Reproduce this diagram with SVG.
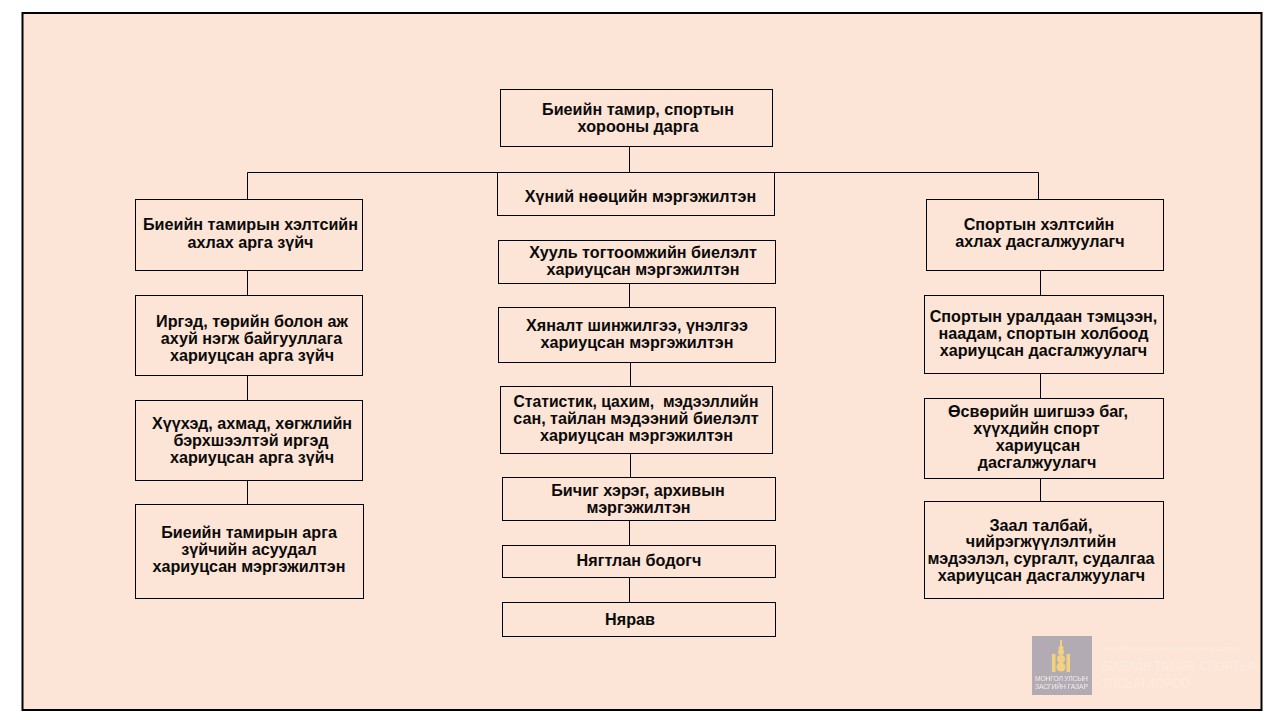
<svg xmlns="http://www.w3.org/2000/svg" width="1279" height="720" viewBox="0 0 1279 720">
<style>
.n{fill:#fce4d6;stroke:#000;stroke-width:1}
.c{fill:none;stroke:#000;stroke-width:1}
text{font-family:"Liberation Sans",Arial,sans-serif;font-weight:700;font-size:16.15px;fill:#0a0a0a;text-anchor:middle;white-space:pre}
.w{font-size:15px;fill:#fde9dd;text-anchor:start}
.s{font-size:6.800px;font-weight:400;fill:#f5ecec}
</style>
<defs><filter id="soft" x="-5%" y="-5%" width="110%" height="110%"><feGaussianBlur stdDeviation="0.400"/></filter></defs>
<rect x="0" y="0" width="1279" height="720" fill="#fff"/>
<rect x="22.500" y="13" width="1239" height="697" fill="#fce4d6" stroke="#000" stroke-width="2"/>
<g id="connectors">
<path class="c" d="M629.500 146V172.500M247.500 199V172.500H1038.500V199M247.500 270V295M247.500 375V400M247.500 480V504M629.500 283V307M630.500 362V386M630.500 453V477M629.500 520V545M629.500 577V602M1040.500 270V295M1040.500 373V398M1040.500 478V501"/>
</g>
<g id="n1"><rect class="n" x="500.500" y="89.500" width="272" height="57"/><text x="638" y="115">Биеийн тамир, спортын</text><text x="638" y="132">хорооны дарга</text></g>
<g id="n2"><rect class="n" x="497.500" y="172.500" width="277" height="43"/><text x="640.500" y="202">Хүний нөөцийн мэргэжилтэн</text></g>
<g id="n3"><rect class="n" x="498.500" y="240.500" width="277" height="43"/><text x="643" y="258">Хууль тогтоомжийн биелэлт</text><text x="643" y="275">хариуцсан мэргэжилтэн</text></g>
<g id="n4"><rect class="n" x="498.500" y="307.500" width="277" height="55"/><text x="637" y="331">Хяналт шинжилгээ, үнэлгээ</text><text x="637" y="348">хариуцсан мэргэжилтэн</text></g>
<g id="n5"><rect class="n" x="500.500" y="386.500" width="272" height="67"/><text x="636" y="407" textLength="245" lengthAdjust="spacingAndGlyphs">Статистик, цахим,  мэдээллийн</text><text x="636" y="424">сан, тайлан мэдээний биелэлт</text><text x="636.500" y="441">хариуцсан мэргэжилтэн</text></g>
<g id="n6"><rect class="n" x="502.500" y="477.500" width="273" height="43"/><text x="638" y="496">Бичиг хэрэг, архивын</text><text x="638.500" y="513">мэргэжилтэн</text></g>
<g id="n7"><rect class="n" x="502.500" y="545.500" width="273" height="32"/><text x="639" y="566">Нягтлан бодогч</text></g>
<g id="n8"><rect class="n" x="502.500" y="602.500" width="273" height="34"/><text x="630" y="625">Нярав</text></g>
<g id="l1"><rect class="n" x="135.500" y="199.500" width="227" height="71"/><text x="250.500" y="230">Биеийн тамирын хэлтсийн</text><text x="250.500" y="248">ахлах арга зүйч</text></g>
<g id="l2"><rect class="n" x="135.500" y="295.500" width="227" height="80"/><text x="252" y="327">Иргэд, төрийн болон аж</text><text x="251.500" y="344">ахуй нэгж байгууллага</text><text x="252" y="361">хариуцсан арга зүйч</text></g>
<g id="l3"><rect class="n" x="135.500" y="400.500" width="227" height="80"/><text x="252" y="429">Хүүхэд, ахмад, хөгжлийн</text><text x="251" y="446">бэрхшээлтэй иргэд</text><text x="252" y="463">хариуцсан арга зүйч</text></g>
<g id="l4"><rect class="n" x="135.500" y="504.500" width="228" height="94"/><text x="249" y="538">Биеийн тамирын арга</text><text x="249" y="555">зүйчийн асуудал</text><text x="249" y="572">хариуцсан мэргэжилтэн</text></g>
<g id="r1"><rect class="n" x="926.500" y="199.500" width="237" height="71"/><text x="1039" y="230">Спортын хэлтсийн</text><text x="1040" y="247">ахлах дасгалжуулагч</text></g>
<g id="r2"><rect class="n" x="924.500" y="295.500" width="239" height="78"/><text x="1043.500" y="322">Спортын уралдаан тэмцээн,</text><text x="1043.500" y="339">наадам, спортын холбоод</text><text x="1043.500" y="356">хариуцсан дасгалжуулагч</text></g>
<g id="r3"><rect class="n" x="924.500" y="398.500" width="239" height="80"/><text x="1038" y="417">Өсвөрийн шигшээ баг,</text><text x="1036.500" y="434">хүүхдийн спорт</text><text x="1038" y="451">хариуцсан</text><text x="1037" y="468">дасгалжуулагч</text></g>
<g id="r4"><rect class="n" x="924.500" y="501.500" width="239" height="97"/><text x="1041" y="531">Заал талбай,</text><text x="1041" y="547">чийрэгжүүлэлтийн</text><text x="1041" y="564">мэдээлэл, сургалт, судалгаа</text><text x="1041.500" y="581">хариуцсан дасгалжуулагч</text></g>
<g id="logo" filter="url(#soft)">
<rect x="1032" y="636" width="60" height="59" fill="#b3abb3"/>
<g fill="#f3d27f"><rect x="1060" y="640" width="2" height="6"/><circle cx="1061" cy="648" r="2.500"/><circle cx="1061" cy="652" r="3"/><rect x="1052" y="654" width="3.500" height="18"/><rect x="1066.500" y="654" width="3.500" height="18"/><circle cx="1061" cy="659" r="4"/><circle cx="1061" cy="667" r="4.500"/></g>
<text class="s" x="1061.500" y="681" textLength="53">МОНГОЛ УЛСЫН</text>
<text class="s" x="1061.500" y="689" textLength="53">ЗАСГИЙН ГАЗАР</text>
<text class="w" x="1102" y="651" style="font-size:6px">ЗАСГИЙН ГАЗРЫН ХЭРЭГЖҮҮЛЭГЧ АГЕНТЛАГ</text>
<text class="w" transform="translate(1102 671) scale(.77 1)">БИЕИЙН ТАМИР, СПОРТЫН</text>
<text class="w" transform="translate(1102 688) scale(.77 1)">УЛСЫН ХОРОО</text>
</g>
</svg>
